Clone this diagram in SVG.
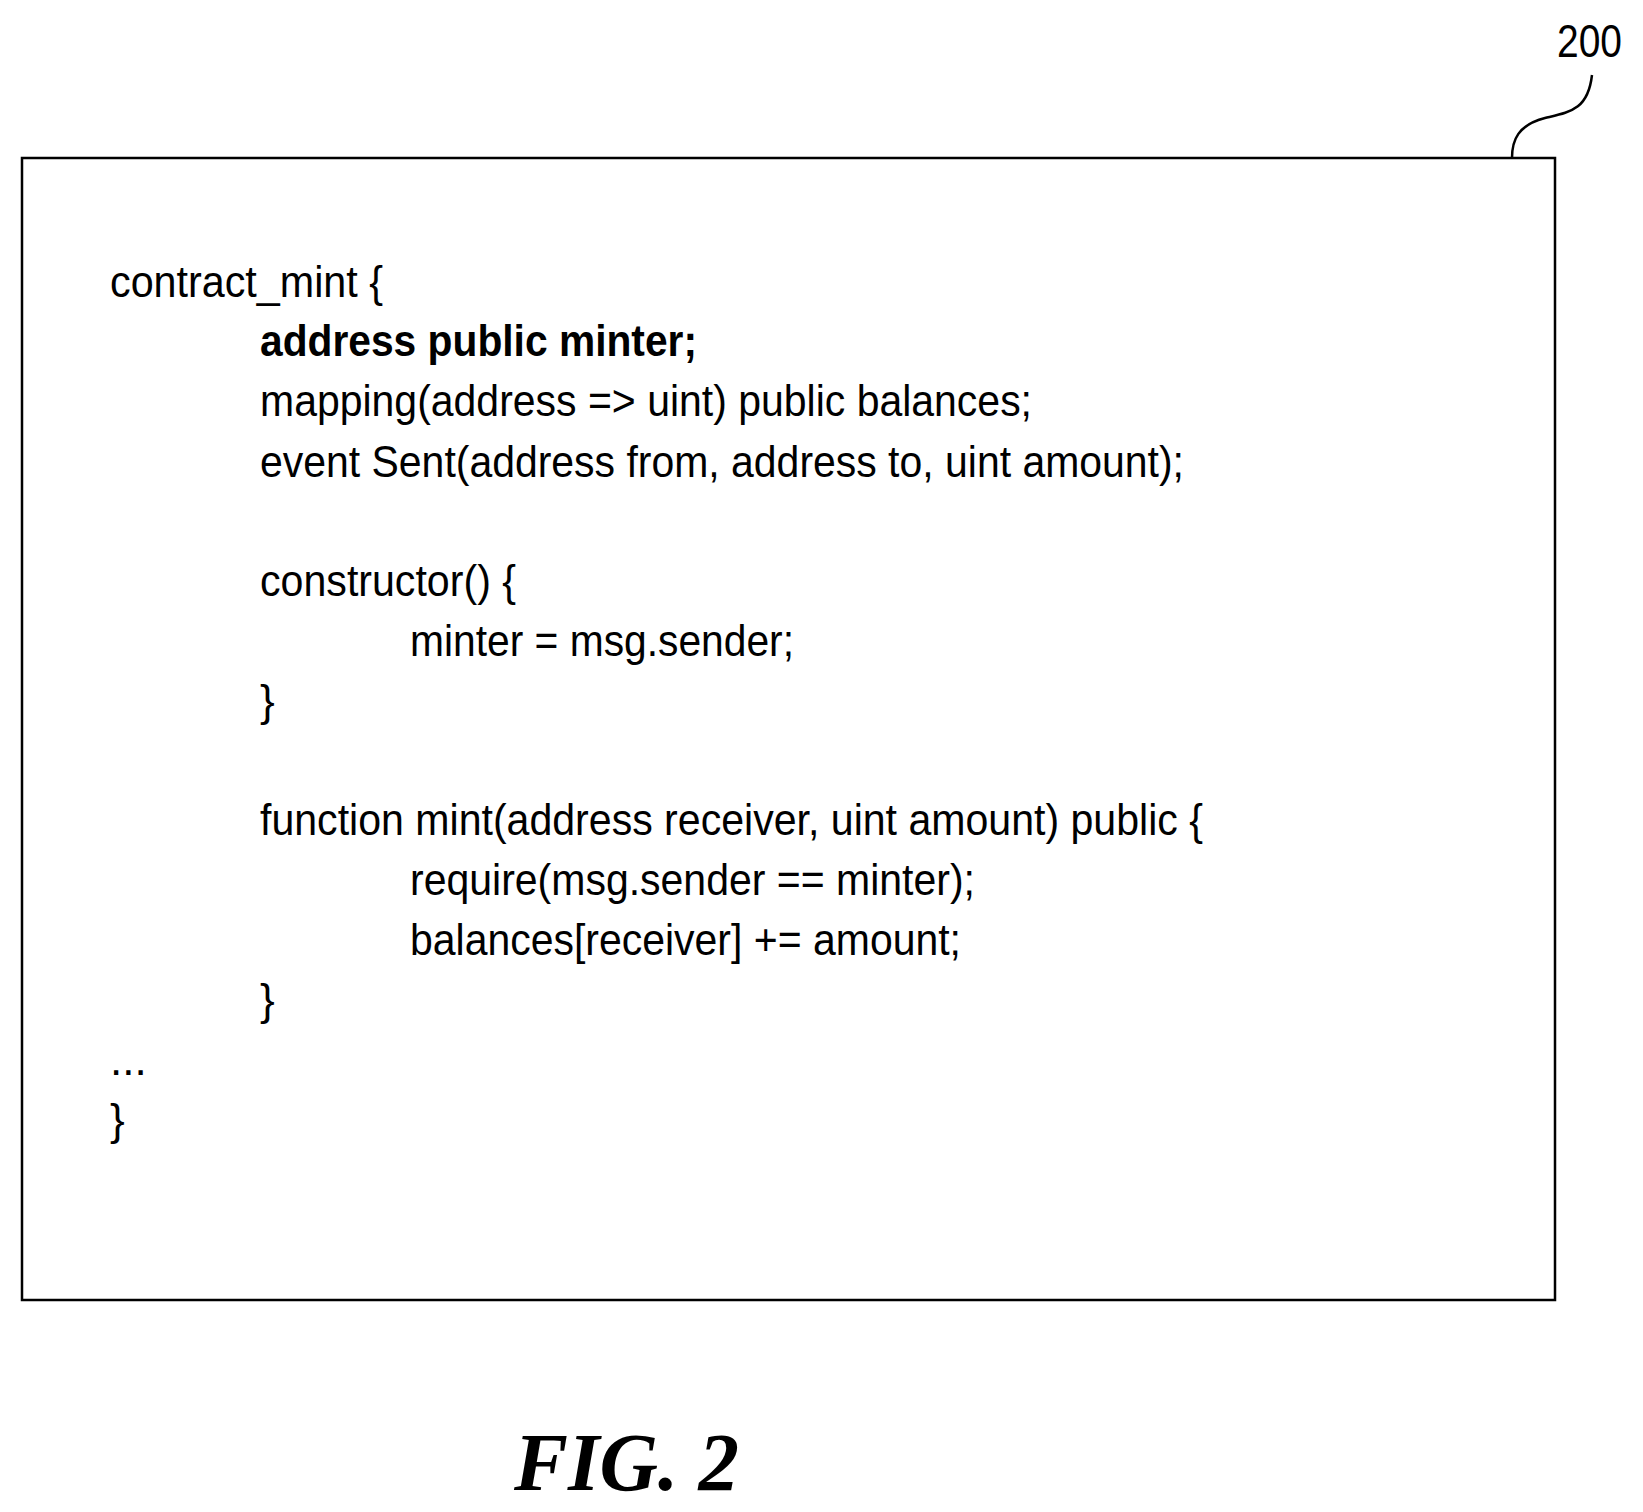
<svg xmlns="http://www.w3.org/2000/svg" width="1643" height="1512" viewBox="0 0 1643 1512">
<style>
.c{font-family:"Liberation Sans",Arial,sans-serif;font-size:44px;fill:#000}
.b{font-weight:bold}
</style>
<rect width="1643" height="1512" fill="#fff"/>
<g id="box200">
<rect x="22" y="158" width="1533" height="1142" fill="none" stroke="#000" stroke-width="2.5"/>
</g>
<g id="code">
<text class="c" x="110" y="297" textLength="273" lengthAdjust="spacingAndGlyphs">contract_mint {</text>
<text class="c b" x="260" y="356" textLength="437" lengthAdjust="spacingAndGlyphs">address public minter;</text>
<text class="c" x="260" y="416" textLength="772" lengthAdjust="spacingAndGlyphs">mapping(address =&gt; uint) public balances;</text>
<text class="c" x="260" y="477" textLength="924" lengthAdjust="spacingAndGlyphs">event Sent(address from, address to, uint amount);</text>
<text class="c" x="260" y="596" textLength="256" lengthAdjust="spacingAndGlyphs">constructor() {</text>
<text class="c" x="410" y="656" textLength="384" lengthAdjust="spacingAndGlyphs">minter = msg.sender;</text>
<text class="c" x="260" y="716">}</text>
<text class="c" x="260" y="835" textLength="943" lengthAdjust="spacingAndGlyphs">function mint(address receiver, uint amount) public {</text>
<text class="c" x="410" y="895" textLength="565" lengthAdjust="spacingAndGlyphs">require(msg.sender == minter);</text>
<text class="c" x="410" y="955" textLength="551" lengthAdjust="spacingAndGlyphs">balances[receiver] += amount;</text>
<text class="c" x="260" y="1015">}</text>
<text class="c" x="110" y="1075">...</text>
<text class="c" x="110" y="1135">}</text>
</g>
<g id="connectors">
<path d="M1592,75 C1588,110 1570,112 1545,118 C1518,125 1512,140 1512,158" fill="none" stroke="#000" stroke-width="2.5"/>
</g>
<g id="label200">
<text class="c" x="1557" y="57" style="font-size:46px" textLength="65" lengthAdjust="spacingAndGlyphs">200</text>
</g>
<g id="caption">
<text x="514" y="1490" font-family="Liberation Serif,'Times New Roman',serif" font-size="82" font-weight="bold" font-style="italic" textLength="225" lengthAdjust="spacingAndGlyphs">FIG. 2</text>
</g>
</svg>
